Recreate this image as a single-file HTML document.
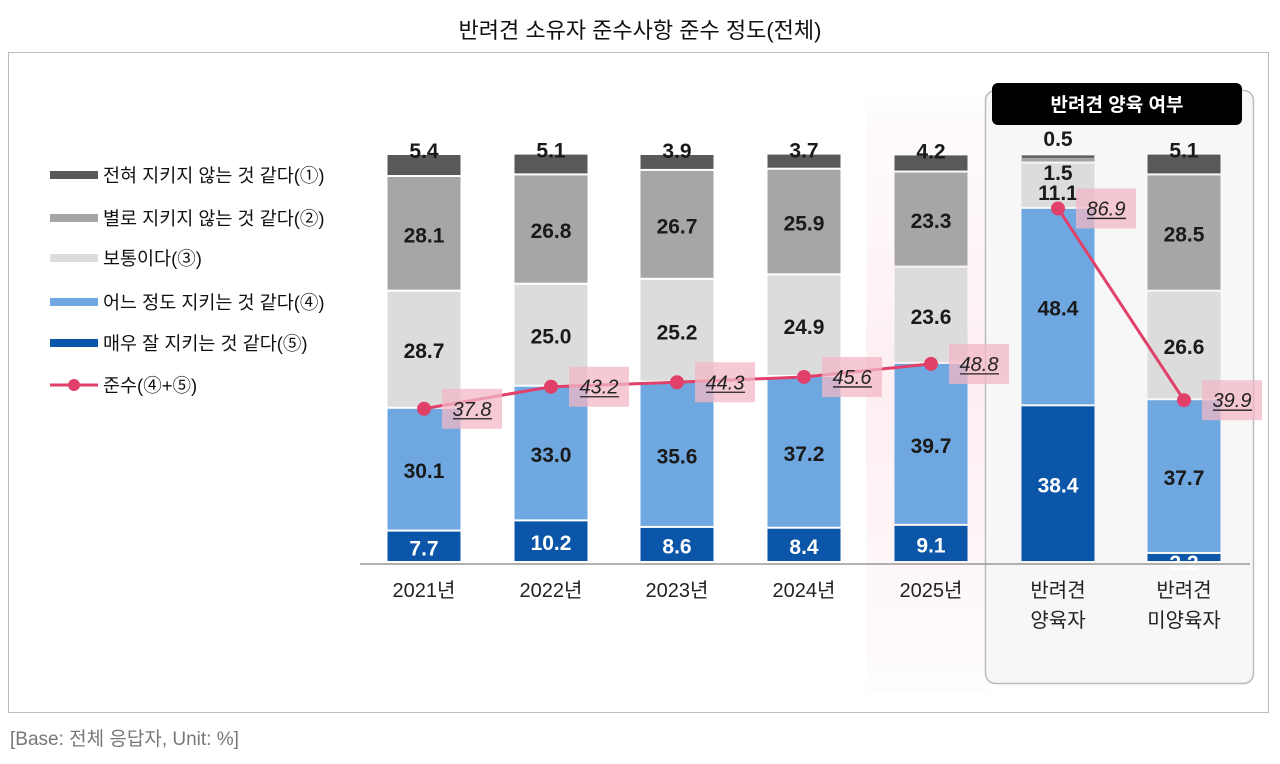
<!DOCTYPE html>
<html><head><meta charset="utf-8">
<style>
body{margin:0;background:#fff;width:1280px;height:759px;overflow:hidden;font-family:"Liberation Sans","Noto Sans CJK KR",sans-serif;}
</style></head><body>
<svg id="s" width="1280" height="759" xmlns="http://www.w3.org/2000/svg" font-family="Liberation Sans, Noto Sans CJK KR, sans-serif">
<defs>
<linearGradient id="pk" x1="0" y1="0" x2="0" y2="1">
<stop offset="0" stop-color="#fdf0f2" stop-opacity="0.2"/>
<stop offset="0.5" stop-color="#fdeef1"/>
<stop offset="1" stop-color="#fdf0f2" stop-opacity="0.2"/>
</linearGradient>
</defs>
<text x="640" y="38" font-size="22" text-anchor="middle" fill="#111">반려견 소유자 준수사항 준수 정도(전체)</text>
<rect x="8.5" y="52.5" width="1260" height="660" fill="none" stroke="#bdbdbd"/>
<rect x="866" y="96" width="124" height="596" fill="url(#pk)"/>
<rect x="985.5" y="90.5" width="268" height="593" rx="10" fill="#f7f7f7" stroke="#bbb" stroke-width="1.5"/>
<rect x="992" y="83" width="250" height="42" rx="6" fill="#000"/>
<text x="1117" y="111" font-size="19" font-weight="bold" text-anchor="middle" fill="#fff">반려견 양육 여부</text>
<g font-size="18.5" fill="#111">
<rect x="50" y="171" width="48" height="8" fill="#595959"/><text x="103" y="182">전혀 지키지 않는 것 같다(①)</text>
<rect x="50" y="214" width="48" height="8" fill="#a6a6a6"/><text x="103" y="225">별로 지키지 않는 것 같다(②)</text>
<rect x="50" y="254" width="48" height="8" fill="#dcdcdc"/><text x="103" y="265">보통이다(③)</text>
<rect x="50" y="298" width="48" height="8" fill="#6fa8e0"/><text x="103" y="309">어느 정도 지키는 것 같다(④)</text>
<rect x="50" y="339" width="48" height="8" fill="#0b56a8"/><text x="103" y="350">매우 잘 지키는 것 같다(⑤)</text>
<line x1="50" y1="385" x2="98" y2="385" stroke="#e0406a" stroke-width="3"/><circle cx="74" cy="385" r="6" fill="#e0406a"/><text x="103" y="392">준수(④+⑤)</text>
</g>
<g id="bars"></g>
<line x1="360" y1="564" x2="1250" y2="564" stroke="#999" stroke-width="1.5"/>
<g font-size="20" fill="#222" text-anchor="middle">
<text x="424" y="597">2021년</text><text x="551" y="597">2022년</text><text x="677" y="597">2023년</text><text x="804" y="597">2024년</text><text x="931" y="597">2025년</text>
<text x="1058" y="597">반려견</text><text x="1058" y="627">양육자</text>
<text x="1184" y="597">반려견</text><text x="1184" y="627">미양육자</text>
</g>
<text x="10" y="745" font-size="19" fill="#777">[Base: 전체 응답자, Unit: %]</text>
</svg>
<script>
(function(){
var data=[[7.7,30.1,28.7,28.1,5.4],[10.2,33.0,25.0,26.8,5.1],[8.6,35.6,25.2,26.7,3.9],[8.4,37.2,24.9,25.9,3.7],[9.1,39.7,23.6,23.3,4.2],[38.4,48.4,11.1,1.5,0.5],[2.2,37.7,26.6,28.5,5.1]];
var line=[37.8,43.2,44.3,45.6,48.8,86.9,39.9];
var cols=['#0b56a8','#6fa8e0','#dcdcdc','#a6a6a6','#595959'];
var cx=[424,551,677,804,931,1058,1184];
var base=563,k=4.08,w=73,h='';
for(var i=0;i<7;i++){var y=base;for(var j=0;j<5;j++){var v=data[i][j],hh=v*k,ty=y-hh;
h+='<rect x="'+(cx[i]-w/2)+'" y="'+ty+'" width="'+w+'" height="'+Math.max(hh-2,1)+'" fill="'+cols[j]+'"/>';
var ly,txt=v.toFixed(1),col=j==0?'#fff':'#1a1a1a';
if(j==4){ly=ty+3;} else ly=ty+hh/2+8;
if(i==5&&j==4){ly=146;}
if(i==5&&j==3){ly=180;}
if(i==5&&j==2){ly=200;}
if(i==6&&j==0){ly=570;col='#fff';}
h+='<text x="'+cx[i]+'" y="'+ly+'" font-size="21" font-weight="bold" text-anchor="middle" fill="'+col+'">'+txt+'</text>';
y=ty;}}
h+='<line x1="1022" y1="157" x2="1094" y2="157" stroke="#555" stroke-width="1.5"/>';
var pts=line.map(function(v,i){return [cx[i],base-v*k];});
var p1=pts.slice(0,5).map(function(p){return p.join(',')}).join(' ');
h+='<polyline points="'+p1+'" fill="none" stroke="#e0406a" stroke-width="3"/>';
h+='<polyline points="'+pts[5].join(',')+' '+pts[6].join(',')+'" fill="none" stroke="#e0406a" stroke-width="3"/>';
for(var i=0;i<7;i++){var p=pts[i];
h+='<rect x="'+(p[0]+18)+'" y="'+(p[1]-20)+'" width="60" height="40" fill="#f2b8c6" opacity="0.75"/>';
h+='<text x="'+(p[0]+48)+'" y="'+(p[1]+7)+'" font-size="20" font-style="italic" text-anchor="middle" fill="#222">'+line[i].toFixed(1)+'</text>';
h+='<line x1="'+(p[0]+29)+'" y1="'+(p[1]+10)+'" x2="'+(p[0]+68)+'" y2="'+(p[1]+10)+'" stroke="#222" stroke-width="1.3"/>';
h+='<circle cx="'+p[0]+'" cy="'+p[1]+'" r="7" fill="#e0406a"/>';}
document.getElementById('bars').innerHTML=h;
})();
</script>
</body></html>
